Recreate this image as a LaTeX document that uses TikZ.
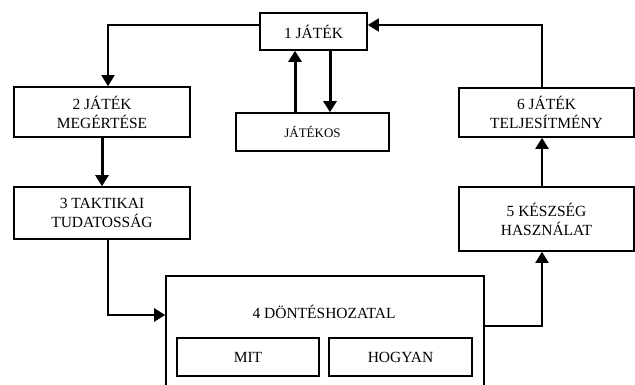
\documentclass[tikz,border=0pt]{standalone}
\usepackage{fontspec}
\setmainfont{Liberation Serif}
\usetikzlibrary{arrows.meta}
\begin{document}
\begin{tikzpicture}[x=1pt, y=-1pt,
    box/.style={draw, line width=1.6pt, align=center, inner sep=0pt,
      font=\fontsize{15.5}{19}\selectfont},
    thinarr/.style={-{Triangle[width=13pt,length=11pt]}, line width=1.6pt},
    thickarr/.style={-{Triangle[width=13pt,length=11pt]}, line width=3pt}]
    \useasboundingbox (0, 0) rectangle (635, 385);

    % ---------------------------------------------
    % the game and the player
    \node[box, minimum width=107pt, minimum height=37pt] (jatek) at (313.5, 31.5) {1 JÁTÉK};
    \node[box, minimum width=153pt, minimum height=38pt,
      font=\fontsize{13}{16}\selectfont] (jatekos) at (312.5, 132) {JÁTÉKOS};

    % ---------------------------------------------
    % left column
    \node[box, minimum width=176pt, minimum height=50pt] (megertes) at (102, 112) {2 JÁTÉK\\MEGÉRTÉSE};
    \node[box, minimum width=176pt, minimum height=52pt] (taktika) at (102, 213) {3 TAKTIKAI\\TUDATOSSÁG};

    % ---------------------------------------------
    % right column
    \node[box, minimum width=175pt, minimum height=49pt] (teljesitmeny) at (546.5, 112.5) {6 JÁTÉK\\TELJESÍTMÉNY};
    \node[box, minimum width=175pt, minimum height=64pt] (keszseg) at (546.5, 219) {5 KÉSZSÉG\\HASZNÁLAT};

    % ---------------------------------------------
    % decision making, open at the bottom of the page
    \node[box, minimum width=318pt, minimum height=116pt] (dontes) at (325, 334) {};
    \node[font=\fontsize{15.5}{19}\selectfont] (dontescim) at (324, 312) {4 DÖNTÉSHOZATAL};
    \node[box, minimum width=142pt, minimum height=38pt] (mit) at (248, 357) {MIT};
    \node[box, minimum width=143pt, minimum height=38pt] (hogyan) at (400.5, 357) {HOGYAN};

    % ---------------------------------------------
    % connectors
    \draw[thinarr] ([yshift=6.5pt]jatek.west) -| ([xshift=6pt]megertes.north);
    \draw[thinarr] ([xshift=-4.5pt]teljesitmeny.north) |- ([yshift=6.5pt]jatek.east);
    \draw[thickarr] ([xshift=-17.5pt]jatekos.north) -- ([xshift=-17.5pt]jatekos.north |- jatek.south);
    \draw[thickarr] ([xshift=17.5pt]jatekos.north |- jatek.south) -- ([xshift=17.5pt]jatekos.north);
    \draw[thickarr] (megertes.south) -- (taktika.north);
    \draw[-{Triangle[width=13pt,length=11pt]}, line width=2.4pt]
      ([xshift=6pt]taktika.south) |- ([yshift=19pt]dontes.west);
    \draw[-{Triangle[width=13pt,length=11pt]}, line width=2pt]
      ([yshift=8pt]dontes.east) -| ([xshift=-4.5pt]keszseg.south);
    \draw[-{Triangle[width=13pt,length=11pt]}, line width=2pt]
      ([xshift=-4.5pt]keszseg.north) -- ([xshift=-4.5pt]teljesitmeny.south);

  \end{tikzpicture}
\end{document}
